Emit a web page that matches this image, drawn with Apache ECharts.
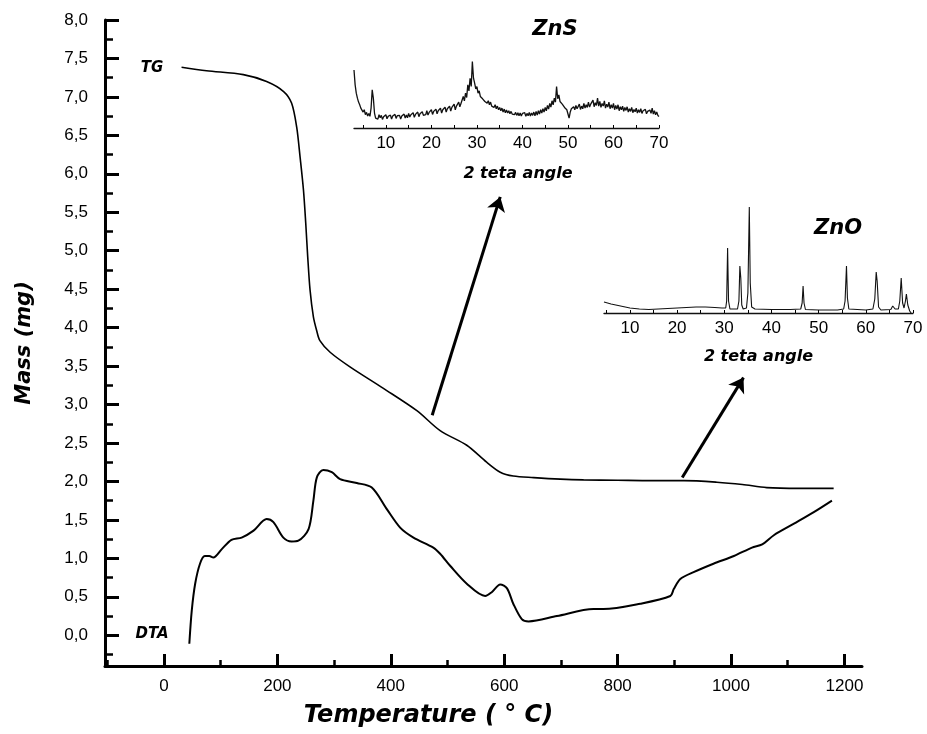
<!DOCTYPE html>
<html><head><meta charset="utf-8">
<script src="https://cdn.jsdelivr.net/npm/echarts@6/dist/echarts.min.js"></script>
<style>html,body{margin:0;padding:0;background:#fff}#c{width:927px;height:734px}</style>
</head><body><div id="c"></div><script>
// ---- main chart data (Temperature in °C, Mass in mg) ----
const tgTemp = [31, 75, 140, 181, 211, 225, 234, 240, 246, 250, 253.5, 257.6, 263.5, 269, 275, 293, 328, 387, 446, 487, 534, 569, 593, 616, 652, 699, 740, 800, 860, 917, 975, 1020, 1063, 1120, 1181];
const tgMass = [7.385, 7.34, 7.29, 7.20, 7.07, 6.92, 6.61, 6.22, 5.79, 5.36, 4.92, 4.49, 4.14, 3.97, 3.83, 3.68, 3.49, 3.21, 2.92, 2.66, 2.47, 2.25, 2.12, 2.07, 2.05, 2.03, 2.02, 2.015, 2.01, 2.01, 1.99, 1.96, 1.92, 1.91, 1.91];
const dtaTemp = [44.7, 49, 55, 63.5, 72, 80, 87, 102, 119, 137, 158, 181, 193, 210.5, 225, 237, 255, 263.5, 269.5, 281, 296, 310.6, 340, 366.5, 393, 416.5, 440, 475, 487, 505, 534, 566.5, 578, 593, 605, 616, 631, 643, 693, 757.5, 775, 840, 893, 899, 910.6, 934, 969, 1005, 1037, 1055, 1075.5, 1111, 1146, 1178];
const dtaVal = [-0.11, 0.32, 0.67, 0.93, 1.03, 1.03, 1.01, 1.12, 1.24, 1.27, 1.36, 1.51, 1.47, 1.27, 1.22, 1.23, 1.38, 1.75, 2.05, 2.15, 2.12, 2.03, 1.98, 1.92, 1.64, 1.40, 1.27, 1.14, 1.06, 0.90, 0.67, 0.51, 0.56, 0.66, 0.61, 0.41, 0.21, 0.18, 0.25, 0.34, 0.34, 0.41, 0.51, 0.60, 0.73, 0.82, 0.93, 1.03, 1.14, 1.18, 1.30, 1.45, 1.60, 1.75];

// ---- tick labels ----
const xMajorTicks = [0, 200, 400, 600, 800, 1000, 1200];
const xMinorTicks = [-100, 100, 300, 500, 700, 900, 1100];
const yMajorTicks = [0, 0.5, 1, 1.5, 2, 2.5, 3, 3.5, 4, 4.5, 5, 5.5, 6, 6.5, 7, 7.5, 8];
const yMinorTicks = [-0.25, 0.25, 0.75, 1.25, 1.75, 2.25, 2.75, 3.25, 3.75, 4.25, 4.75, 5.25, 5.75, 6.25, 6.75, 7.25, 7.75];
const insetTicks = [10, 20, 30, 40, 50, 60, 70];
const insetMinorTicks = [5, 10, 15, 20, 25, 30, 35, 40, 45, 50, 55, 60, 65, 70];

// ---- ZnS XRD inset (2θ from 3° in 0.25° steps, intensity a.u.) ----
const znsStart = 3, znsStep = 0.25;
const znsIntensity = [
 175,130,105,90,78,70,60,66,48,55,40,47,36,44,35,60,115,90,45,30,
 36,27,40,31,38,26,34,30,40,28,35,32,39,27,36,30,41,29,37,31,
 38,27,36,33,42,30,39,31,44,33,40,35,46,32,41,36,48,34,43,37,
 49,38,44,40,52,39,47,42,55,41,50,44,57,43,52,46,60,45,55,49,
 63,48,58,52,66,51,62,56,72,55,66,60,78,64,74,70,95,82,105,92,
 130,112,150,125,200,150,135,118,125,105,112,95,100,88,92,80,86,75,82,70,
 78,66,72,62,70,58,66,55,62,52,60,48,57,46,54,45,52,43,50,42,
 48,40,47,38,46,37,45,36,44,38,46,35,44,37,47,36,45,38,48,37,
 50,39,52,42,55,45,58,48,62,52,68,57,74,63,82,70,90,78,125,88,
 100,80,85,72,78,62,68,55,60,30,48,58,52,64,55,68,58,62,72,56,
 66,58,74,60,70,62,78,63,72,66,84,64,76,68,90,66,80,62,74,66,
 82,60,72,63,78,58,70,60,74,55,68,57,70,52,64,55,66,50,62,53,
 64,48,58,50,62,46,56,49,60,45,55,47,58,44,52,46,56,43,50,45,
 54,44,60,42,52,40,48,38,35];

// ---- ZnO XRD inset (2θ, intensity a.u.) ----
const znoAngle = [4.5, 6, 8, 10, 12, 14, 16, 18, 20, 22, 24, 26, 28, 29.5, 30.3, 30.5, 30.7, 30.9, 31.2, 32.8, 33.1, 33.3, 33.5, 33.7, 34.0, 34.7, 35.0, 35.3, 35.5, 35.8, 36.5, 40, 44, 46.2, 46.5, 46.7, 46.9, 47.2, 50, 54, 55.3, 55.6, 55.9, 56.1, 56.4, 60, 61.5, 61.9, 62.2, 62.4, 62.7, 63.2, 65.3, 65.7, 65.9, 66.2, 66.9, 67.2, 67.5, 67.8, 68.1, 68.4, 68.6, 68.9, 69.3, 69.6];
const znoIntensity = [11, 9, 7, 5, 4, 3.5, 4, 4.5, 5, 5.5, 6, 6, 5.5, 5, 5, 12, 65, 12, 4, 4, 12, 47, 35, 8, 4, 5, 20, 106, 30, 6, 4, 3.5, 3.5, 4, 10, 27, 10, 3.5, 3, 3, 4, 12, 47, 15, 4, 3, 4, 14, 41, 32, 6, 3, 3.5, 7, 9, 4, 4, 12, 35, 10, 5, 12, 19, 8, 2, 0];

// ---- annotation arrows (in data units: [temperature, mass]) ----
const arrows = [[[473, 2.86], [593, 5.70]], [[914, 2.05], [1022, 3.35]]];

const zip = (a, b) => a.map((v, i) => [v, b[i]]);
const znsData = znsIntensity.map((v, i) => [znsStart + i * znsStep, v]);

const tickFont = { fontFamily: 'Liberation Sans', fontSize: 17, color: '#000' };
const bi = { fontFamily: 'DejaVu Sans', fontWeight: 'bold', fontStyle: 'italic', color: '#000' };
const plain = v => String(v);

// axes that only draw ticks, placed on the opposite side and shifted back so the ticks point into the plot
const tickOnlyX = (grid, min, max, off, values, len, width) => ({
  type: 'value', gridIndex: grid, min, max, position: 'top', offset: off,
  axisLine: { show: false, onZero: false },
  axisTick: { length: len, customValues: values, lineStyle: { color: '#000', width } },
  axisLabel: { show: false }, splitLine: { show: false } });
const tickOnlyY = (grid, min, max, off, values, len, width) => ({
  type: 'value', gridIndex: grid, min, max, position: 'right', offset: off,
  axisLine: { show: false, onZero: false },
  axisTick: { length: len, customValues: values, lineStyle: { color: '#000', width } },
  axisLabel: { show: false }, splitLine: { show: false } });

const chart = echarts.init(document.getElementById('c'));
chart.setOption({
  animation: false,
  backgroundColor: '#fff',
  grid: [
    { left: 105, top: 20, right: 65, bottom: 68, outerBoundsMode: 'none' },
    { left: 354, top: 55, right: 268, bottom: 606, outerBoundsMode: 'none' },
    { left: 604, top: 203, right: 14, bottom: 421, outerBoundsMode: 'none' }
  ],
  xAxis: [
    { type: 'value', gridIndex: 0, min: -104, max: 1231, position: 'bottom',
      axisLine: { onZero: false, lineStyle: { color: '#000', width: 3 } },
      axisTick: { show: false },
      axisLabel: { customValues: xMajorTicks, margin: 12, formatter: plain, ...tickFont },
      splitLine: { show: false },
      name: 'Temperature ( ° C)', nameLocation: 'middle', nameGap: 38,
      nameTextStyle: { ...bi, fontSize: 24, padding: [0, 110, 0, 0] } },
    tickOnlyX(0, -104, 1231, -646, xMajorTicks, 12, 3),
    tickOnlyX(0, -104, 1231, -646, xMinorTicks, 6, 2.5),
    { type: 'value', gridIndex: 1, min: 3, max: 70, position: 'bottom',
      axisLine: { onZero: false, lineStyle: { color: '#111', width: 1.3 } },
      axisTick: { show: false },
      axisLabel: { customValues: insetTicks, margin: 7, formatter: plain, ...tickFont },
      splitLine: { show: false },
      name: '2 teta angle', nameLocation: 'middle', nameGap: 38,
      nameTextStyle: { ...bi, fontSize: 16, padding: [0, 0, 0, 23] } },
    { type: 'value', gridIndex: 2, min: 4.5, max: 70, position: 'bottom',
      axisLine: { onZero: false, lineStyle: { color: '#111', width: 1.3 } },
      axisTick: { show: false },
      axisLabel: { customValues: insetTicks, margin: 7, formatter: plain, ...tickFont },
      splitLine: { show: false },
      name: '2 teta angle', nameLocation: 'middle', nameGap: 36,
      nameTextStyle: { ...bi, fontSize: 16 } },
    tickOnlyX(1, 3, 70, -73, insetMinorTicks, 3, 1),
    tickOnlyX(2, 4.5, 70, -110, insetMinorTicks, 3, 1)
  ],
  yAxis: [
    { type: 'value', gridIndex: 0, min: -0.4, max: 8, position: 'left',
      axisLine: { onZero: false, lineStyle: { color: '#000', width: 3 } },
      axisTick: { show: false },
      axisLabel: { customValues: yMajorTicks, margin: 17, ...tickFont,
        formatter: v => v.toFixed(1).replace('.', ',') },
      splitLine: { show: false },
      name: 'Mass (mg)', nameLocation: 'middle', nameGap: 70,
      nameTextStyle: { ...bi, fontSize: 21 } },
    tickOnlyY(0, -0.4, 8, -757, yMajorTicks, 14, 3),
    tickOnlyY(0, -0.4, 8, -757, yMinorTicks, 8, 2.5),
    { type: 'value', gridIndex: 1, min: 0, max: 220, show: false },
    { type: 'value', gridIndex: 2, min: 0, max: 110, show: false }
  ],
  series: [
    { name: 'TG', type: 'line', xAxisIndex: 0, yAxisIndex: 0, data: zip(tgTemp, tgMass),
      smooth: 0.3, showSymbol: false, lineStyle: { color: '#000', width: 1.6 },
      markLine: { silent: true, symbol: ['none', 'arrow'], symbolSize: 14, animation: false,
        label: { show: false },
        lineStyle: { color: '#000', width: 3, type: 'solid' },
        data: arrows.map(a => [{ coord: a[0] }, { coord: a[1] }]) } },
    { name: 'DTA', type: 'line', xAxisIndex: 0, yAxisIndex: 0, data: zip(dtaTemp, dtaVal),
      smooth: 0.3, showSymbol: false, lineStyle: { color: '#000', width: 2 } },
    { name: 'ZnS', type: 'line', xAxisIndex: 3, yAxisIndex: 3, data: znsData,
      showSymbol: false, lineStyle: { color: '#111', width: 1.3 } },
    { name: 'ZnO', type: 'line', xAxisIndex: 4, yAxisIndex: 4, data: zip(znoAngle, znoIntensity),
      showSymbol: false, lineStyle: { color: '#111', width: 1.1 } }
  ],
  graphic: [
    { type: 'text', x: 152, y: 68, style: { text: 'TG', align: 'center', verticalAlign: 'middle', fill: '#000',
      font: 'italic bold 15px "DejaVu Sans"' } },
    { type: 'text', x: 152, y: 634, style: { text: 'DTA', align: 'center', verticalAlign: 'middle', fill: '#000',
      font: 'italic bold 15px "DejaVu Sans"' } },
    { type: 'text', x: 555, y: 30, style: { text: 'ZnS', align: 'center', verticalAlign: 'middle', fill: '#000',
      font: 'italic bold 21px "DejaVu Sans"' } },
    { type: 'text', x: 838, y: 229, style: { text: 'ZnO', align: 'center', verticalAlign: 'middle', fill: '#000',
      font: 'italic bold 21px "DejaVu Sans"' } }
  ]
});
</script></body></html>
